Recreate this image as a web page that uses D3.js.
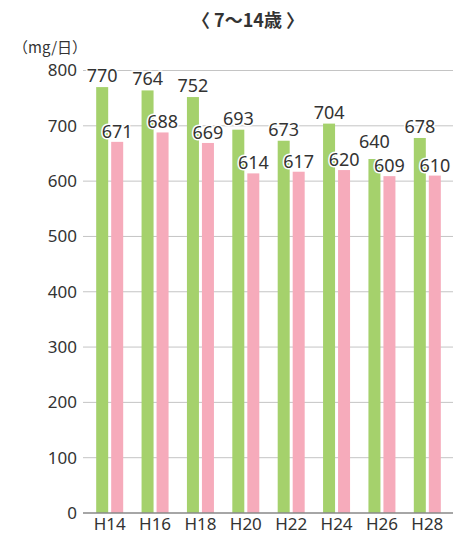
<!DOCTYPE html>
<html>
<head>
<meta charset="utf-8">
<script src="https://cdn.jsdelivr.net/npm/d3@7"></script>
<style>
  html, body { margin: 0; padding: 0; background: #fff; }
  svg { display: block; }
  text { font-family: "Noto Sans CJK JP", "Noto Sans", sans-serif; fill: #333; }
</style>
</head>
<body>
<svg id="chart" width="463" height="535"></svg>
<script>
// Survey years and the two series (mg/day)
const years = ["H14", "H16", "H18", "H20", "H22", "H24", "H26", "H28"];
const seriesA = [770, 764, 752, 693, 673, 704, 640, 678];
const seriesB = [671, 688, 669, 614, 617, 620, 609, 610];
const yTicks = [0, 100, 200, 300, 400, 500, 600, 700, 800];
const colors = ["#a5d16c", "#f6abbb"];

const svg = d3.select("#chart");
const plotLeft = 83, plotRight = 453, plotTop = 70.5, plotBottom = 513;
const numFont = "'Noto Sans', sans-serif";

const x = d3.scaleBand().domain(years).range([87, 450]).padding(0);
const y = d3.scaleLinear().domain([0, 800]).range([plotBottom, plotTop]);
const barW = 12, gap = 3;

// Title and unit
svg.append("text").attr("x", 248).attr("y", 27)
  .attr("text-anchor", "middle").attr("font-size", 18).attr("font-weight", "bold")
  .text("〈 7〜14歳 〉");
svg.append("text").attr("x", 13).attr("y", 53)
  .attr("font-size", 15).text("（mg/日）");

// Horizontal grid
svg.append("g").selectAll("line").data(yTicks.filter(d => d > 0)).join("line")
  .attr("x1", plotLeft).attr("x2", plotRight)
  .attr("y1", d => y(d)).attr("y2", d => y(d))
  .attr("stroke", "#c4c4c4").attr("stroke-width", 1);

// Y axis labels
const yAxis = d3.axisLeft(y).tickValues(yTicks).tickSize(0).tickPadding(6);
const gy = svg.append("g").attr("transform", `translate(${plotLeft},0)`).call(yAxis);
gy.select(".domain").remove();
gy.selectAll("text").attr("font-size", 17).attr("fill", "#333")
  .style("font-family", numFont);

// Bars
const groups = svg.append("g").selectAll("g").data(years).join("g")
  .attr("transform", d => `translate(${x(d) + x.bandwidth() / 2},0)`);

[seriesA, seriesB].forEach((vals, si) => {
  groups.append("rect")
    .attr("x", si === 0 ? -(barW + gap / 2) : gap / 2)
    .attr("width", barW)
    .attr("y", (d, i) => y(vals[i]))
    .attr("height", (d, i) => plotBottom - y(vals[i]))
    .attr("fill", colors[si]);
});

// Baseline
svg.append("line").attr("x1", plotLeft).attr("x2", plotRight)
  .attr("y1", plotBottom).attr("y2", plotBottom)
  .attr("stroke", "#888").attr("stroke-width", 1.5);

// X axis labels
const xAxis = d3.axisBottom(x).tickSize(0).tickPadding(5);
const gx = svg.append("g").attr("transform", `translate(0,${plotBottom})`).call(xAxis);
gx.select(".domain").remove();
gx.selectAll("text").attr("font-size", 17).attr("fill", "#333")
  .style("font-family", numFont);

// Value labels with white halo; a green label is lifted clear of its pink neighbour
const labelH = 24;
const labelY = (si, i) => {
  const own = y([seriesA, seriesB][si][i]) - 5;
  return si === 0 ? Math.min(own, y(seriesB[i]) - 4 - labelH) : y(seriesB[i]) - 4;
};
[seriesA, seriesB].forEach((vals, si) => {
  groups.append("text")
    .attr("x", si === 0 ? -(barW / 2 + gap / 2) : barW / 2 + gap / 2)
    .attr("y", (d, i) => labelY(si, i))
    .attr("text-anchor", "middle")
    .attr("font-size", 18)
    .style("font-family", numFont)
    .attr("stroke", "#fff").attr("stroke-width", 3).attr("paint-order", "stroke")
    .text((d, i) => vals[i]);
});
</script>
</body>
</html>
